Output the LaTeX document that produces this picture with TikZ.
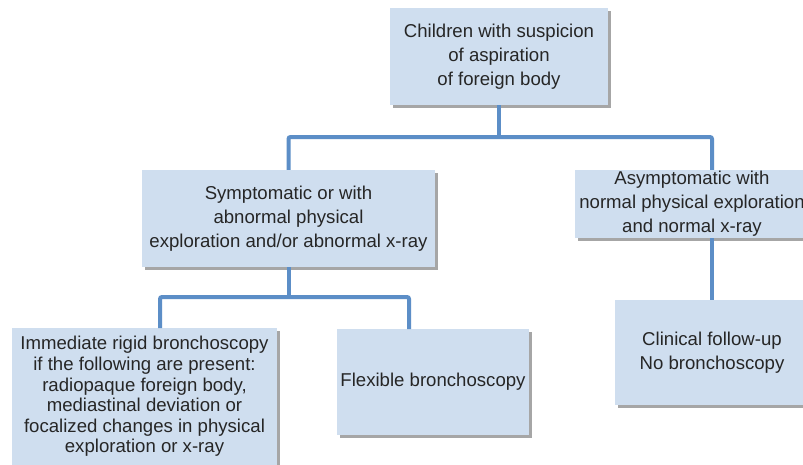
\documentclass[tikz,border=0pt]{standalone}
\usepackage{fontspec}
\setmainfont{Liberation Sans}
\usetikzlibrary{shadows}
\definecolor{boxfill}{RGB}{207,222,239}
\definecolor{linkblue}{RGB}{92,142,199}
\definecolor{txt}{RGB}{38,38,38}
\begin{document}
\begin{tikzpicture}[x=1pt,y=-1pt,
  box/.style={draw=none, fill=boxfill, text=txt, align=center, inner sep=0pt,
    font=\fontsize{18.6}{24}\selectfont,
    drop shadow={shadow xshift=2.5pt, shadow yshift=-2.5pt, fill=black, opacity=0.35}},
  link/.style={draw=linkblue, line width=4pt, rounded corners=2pt}]
\clip (0,0) rectangle (803,464);
\fill[white] (0,0) rectangle (803,464);

\node[box, minimum width=218pt, minimum height=97pt] (top) at (499,56.5)
  {Children with suspicion\\of aspiration\\of foreign body};
\node[box, minimum width=293pt, minimum height=97pt] (ml) at (288.5,218.5)
  {Symptomatic or with\\abnormal physical\\exploration and/or abnormal x-ray};
\node[box, minimum width=234pt, minimum height=68pt] (mr) at (692,204)
  {Asymptomatic with\\normal physical exploration\\and normal x-ray};
\node[box, minimum width=194pt, minimum height=105pt] (br) at (712,352.5)
  {Clinical follow-up\\No bronchoscopy};
\node[box, minimum width=265pt, minimum height=137pt, font=\fontsize{18.6}{20.6}\selectfont] (bl) at (144.5,396.5)
  {Immediate rigid bronchoscopy\\if the following are present:\\radiopaque foreign body,\\mediastinal deviation or\\focalized changes in physical\\exploration or x-ray};
\node[box, minimum width=192pt, minimum height=106pt] (fl) at (433,382)
  {Flexible bronchoscopy};

\coordinate (bus1) at (499,137);
\coordinate (bus2) at (288.5,297);
\coordinate (blin) at (160,328);
\coordinate (flin) at (409,329);

\draw[link] (top.south) -- (bus1);
\draw[link] (ml.north) -- (ml.north |- bus1) -- (br.north |- bus1) -- (br.north |- mr.north);
\draw[link] (br.north |- mr.south) -- (br.north);
\draw[link] (ml.south) -- (bus2);
\draw[link] (blin) -- (blin |- bus2) -- (flin |- bus2) -- (flin);
\end{tikzpicture}
\end{document}
